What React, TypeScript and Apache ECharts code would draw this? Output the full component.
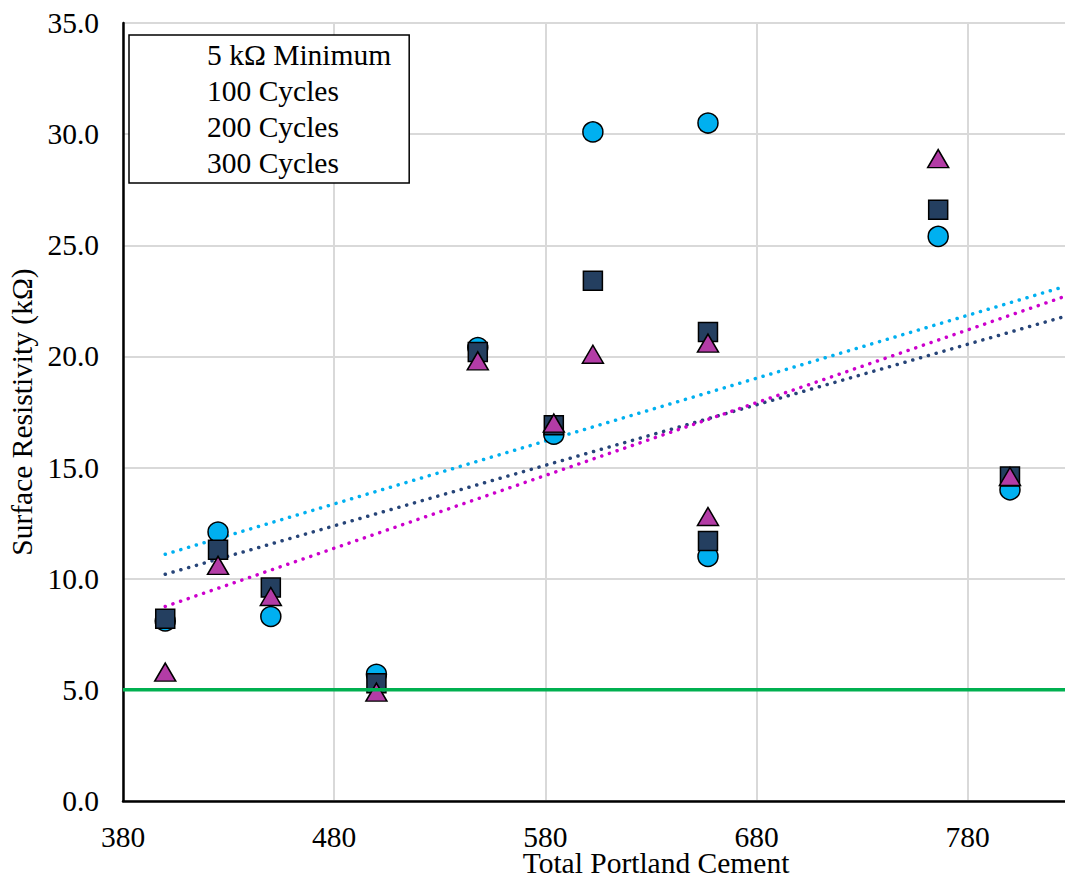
import React, { useEffect, useRef } from "react";
import * as echarts from "echarts";

const cementContent = [400, 425, 450, 500, 548, 584, 602.5, 657, 657, 766, 800];
const cycles100 = [8.1, 12.1, 8.3, 5.7, 20.4, 16.5, 30.1, 30.5, 11.0, 25.4, 14.0];
const cycles200 = [8.2, 11.3, 9.6, 5.3, 20.2, 16.9, 23.4, 21.1, 11.7, 26.6, 14.6];
const cycles300 = [5.8, 10.6, 9.2, 4.9, 19.8, 17.0, 20.1, 20.6, 12.8, 28.9, 14.6];

const minimumX = [380, 827];
const minimumY = [5, 5];

const trendX = [400, 826];
const trend100 = [11.1, 23.15];
const trend200 = [10.2, 21.8];
const trend300 = [8.75, 22.7];

const seriesNames = ["5 kΩ Minimum", "100 Cycles", "200 Cycles", "300 Cycles"];

const FONT = "'Liberation Serif', 'Times New Roman', serif";
const FS = 29.5;

const zip = (xs: number[], ys: number[]) => xs.map((x, i) => [x, ys[i]]);

export default function App() {
  const ref = useRef<HTMLDivElement>(null);
  useEffect(() => {
    if (!ref.current) return;
    const chart = echarts.init(ref.current, undefined, { renderer: "svg" });
    const markerBase = { borderColor: "#000", borderWidth: 1.5, opacity: 1 };
    const trendStyle = (color: string) => ({
      color,
      width: 3.5,
      type: [0.1, 8] as any,
      cap: "round" as any,
    });
    chart.setOption({
      animation: false,
      backgroundColor: "#fff",
      grid: { left: 123, right: -2, top: 23, bottom: 81, containLabel: false, outerBoundsMode: "none" },
      legend: {
        data: seriesNames,
        orient: "vertical",
        left: 129,
        top: 35,
        padding: [5, 18, 5, 8],
        itemWidth: 64,
        itemHeight: 14,
        itemGap: 6,
        borderColor: "#000",
        borderWidth: 1.5,
        backgroundColor: "#fff",
        itemStyle: { opacity: 0 },
        lineStyle: { opacity: 0 },
        selectedMode: false,
        textStyle: { fontFamily: FONT, fontSize: FS, color: "#000", lineHeight: 30 },
      },
      xAxis: {
        type: "value",
        min: 380,
        max: 827,
        interval: 100,
        name: "Total Portland Cement",
        nameLocation: "middle",
        nameGap: 50,
        nameMoveOverlap: false,
        nameTextStyle: { fontFamily: FONT, fontSize: FS, color: "#000", lineHeight: 24, padding: [0, 0, 0, 122] },
        axisLine: { show: true, onZero: false, lineStyle: { color: "#000", width: 2.5 } },
        axisTick: { show: false },
        axisLabel: {
          fontFamily: FONT,
          fontSize: FS,
          lineHeight: 24,
          color: "#000",
          margin: 24,
          formatter: (v: number) => ((v - 380) % 100 === 0 ? String(v) : ""),
        },
        splitLine: { show: true, lineStyle: { color: "#d9d9d9", width: 2 } },
      },
      yAxis: {
        type: "value",
        min: 0,
        max: 35,
        interval: 5,
        name: "Surface Resistivity (kΩ)",
        nameLocation: "middle",
        nameGap: 86,
        nameMoveOverlap: false,
        nameTextStyle: { fontFamily: FONT, fontSize: FS, color: "#000" },
        axisLine: { show: true, lineStyle: { color: "#000", width: 2.5 } },
        axisTick: { show: false },
        axisLabel: {
          fontFamily: FONT,
          fontSize: FS,
          color: "#000",
          margin: 24,
          formatter: (v: number) => v.toFixed(1),
        },
        splitLine: { show: true, lineStyle: { color: "#d9d9d9", width: 2 } },
      },
      series: [
        {
          name: "trend100",
          type: "line",
          data: zip(trendX, trend100),
          symbol: "none",
          lineStyle: trendStyle("#00b0f0"),
          z: 2,
        },
        {
          name: "trend200",
          type: "line",
          data: zip(trendX, trend200),
          symbol: "none",
          lineStyle: trendStyle("#264478"),
          z: 2,
        },
        {
          name: "trend300",
          type: "line",
          data: zip(trendX, trend300),
          symbol: "none",
          lineStyle: trendStyle("#cc00cc"),
          z: 2,
        },
        {
          name: seriesNames[1],
          type: "scatter",
          data: zip(cementContent, cycles100),
          symbol: "circle",
          symbolSize: 20,
          itemStyle: { color: "#00b0f0", ...markerBase },
          z: 3,
        },
        {
          name: seriesNames[2],
          type: "scatter",
          data: zip(cementContent, cycles200),
          symbol: "rect",
          symbolSize: 19,
          itemStyle: { color: "#243f60", ...markerBase },
          z: 4,
        },
        {
          name: seriesNames[3],
          type: "scatter",
          data: zip(cementContent, cycles300),
          symbol: "triangle",
          symbolSize: [21, 18],
          itemStyle: { color: "#b33ca6", ...markerBase },
          z: 5,
        },
        {
          name: seriesNames[0],
          type: "line",
          data: zip(minimumX, minimumY),
          symbol: "none",
          lineStyle: { color: "#00b050", width: 3.5 },
          z: 6,
        },
      ],
    });
    return () => chart.dispose();
  }, []);
  return (
    <div style={{ position: "fixed", left: 0, top: 0, width: 1065, height: 882, overflow: "hidden", background: "#fff" }}>
      <div ref={ref} style={{ width: 1065, height: 882 }} />
    </div>
  );
}
